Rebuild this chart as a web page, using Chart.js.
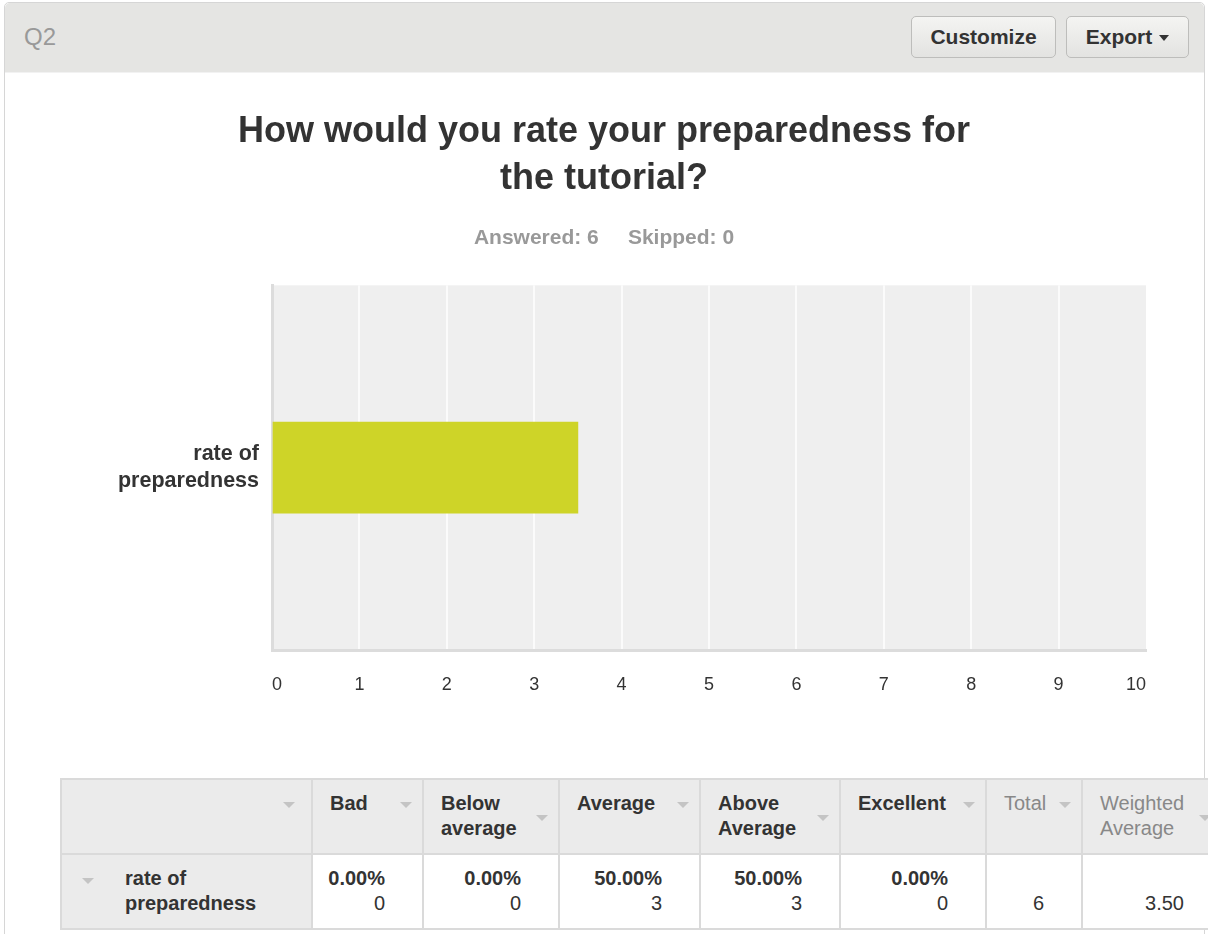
<!DOCTYPE html>
<html>
<head>
<meta charset="utf-8">
<script src="https://cdn.jsdelivr.net/npm/chart.js@4/dist/chart.umd.min.js"></script>
<style>
  html, body { margin: 0; padding: 0; background: #fff; }
  body { width: 1208px; height: 934px; overflow: hidden; position: relative; font-family: "Liberation Sans", Arial, sans-serif; color: #333; }
  .card { position: absolute; left: 4px; top: 2px; width: 1199px; height: 940px; border: 1px solid #d6d6d6; border-radius: 5px 5px 0 0; background: #fff; }
  .card-head { position: absolute; left: 0; top: 0; right: 0; height: 69px; background: #e5e5e3; border-bottom: 1px solid #f2f2f2; border-radius: 5px 5px 0 0; }
  .qnum { position: absolute; left: 19px; top: 20px; font-size: 24px; color: #999; }
  .btn { position: absolute; top: 13px; height: 42px; box-sizing: border-box; border: 1px solid #bdbdbb; border-radius: 5px;
         background: linear-gradient(#f4f4f2, #e3e3e1); font-size: 21px; font-weight: bold; color: #333; line-height: 40px; text-align: center; }
  .btn .caret { display: inline-block; width: 0; height: 0; border-left: 5px solid transparent; border-right: 5px solid transparent; border-top: 6px solid #333; vertical-align: middle; margin-left: 7px; }
  #chartWrap { position: absolute; left: 0; top: 80px; width: 1208px; height: 640px; }
  table { position: absolute; left: 60px; top: 778px; border-collapse: collapse; table-layout: fixed; width: 1161px; font-size: 20px; }
  th, td { border: 2px solid #dadada; vertical-align: top; line-height: 25px; }
  th { background: #ebebeb; text-align: left; padding: 11px 8px 0 17px; height: 62px; font-weight: bold; color: #333; position: relative; }
  th.light { font-weight: normal; color: #888; }
  th .sort { position: absolute; right: 10px; top: 22px; width: 0; height: 0; border-left: 6px solid transparent; border-right: 6px solid transparent; border-top: 6px solid #c4c4c4; }
  th .sort.low { top: 35px; }
  td { background: #fff; text-align: right; padding: 11px 37px 0 8px; height: 62px; }
  td .pct { font-weight: bold; }
  td.row { background: #ebebeb; text-align: left; font-weight: bold; padding-left: 63px; position: relative; }
  td.row .sort { position: absolute; left: 20px; top: 23px; width: 0; height: 0; border-left: 6px solid transparent; border-right: 6px solid transparent; border-top: 6px solid #c4c4c4; }
</style>
</head>
<body>
<div class="card">
  <div class="card-head">
    <div class="qnum">Q2</div>
    <div class="btn" style="left:906px;width:145px;">Customize</div>
    <div class="btn" style="left:1061px;width:123px;">Export<span class="caret"></span></div>
  </div>
</div>
<div id="chartWrap"><canvas id="chart"></canvas></div>
<table id="summary"></table>
<script>
// 質問と回答データ
const questionTitle = ['How would you rate your preparedness for', 'the tutorial?'];
const answeredCount = 6;
const skippedCount = 0;
const rowLabel = ['rate of', 'preparedness'];
const choices = ['Bad', 'Below average', 'Average', 'Above Average', 'Excellent'];
const choiceCounts = [0, 0, 3, 3, 0];
const xTicks = [0, 1, 2, 3, 4, 5, 6, 7, 8, 9, 10];

// 加重平均（1〜5点）
const total = choiceCounts.reduce((a, b) => a + b, 0);
const weightedAverage = choiceCounts.reduce((s, c, i) => s + c * (i + 1), 0) / total;

// プロット領域の背景
const plotBackground = {
  id: 'plotBackground',
  beforeDraw(chart) {
    const { ctx, chartArea } = chart;
    ctx.save();
    ctx.fillStyle = '#efefef';
    ctx.fillRect(chartArea.left, chartArea.top, chartArea.right - chartArea.left, chartArea.bottom - chartArea.top);
    ctx.restore();
  }
};

const FONT = '"Liberation Sans", Arial, sans-serif';

new Chart(document.getElementById('chart'), {
  type: 'bar',
  data: {
    labels: [rowLabel],
    datasets: [{
      data: [weightedAverage],
      backgroundColor: '#ced428',
      barThickness: 91
    }]
  },
  options: {
    indexAxis: 'y',
    responsive: true,
    maintainAspectRatio: false,
    animation: false,
    layout: { padding: { left: 62, right: 62, top: 0, bottom: 0 } },
    plugins: {
      legend: { display: false },
      tooltip: { enabled: false },
      title: {
        display: true,
        text: questionTitle,
        color: '#333',
        font: { family: FONT, size: 36, weight: 'bold', lineHeight: 1.3 },
        padding: { top: 29, bottom: 10 }
      },
      subtitle: {
        display: true,
        text: 'Answered: ' + answeredCount + '     Skipped: ' + skippedCount,
        color: '#999',
        font: { family: FONT, size: 21, weight: 'bold', lineHeight: 1.2 },
        padding: { top: 13, bottom: 34.5 }
      }
    },
    scales: {
      x: {
        min: xTicks[0],
        max: xTicks[xTicks.length - 1],
        afterBuildTicks(axis) { axis.ticks = xTicks.map(v => ({ value: v })); },
        afterFit(axis) { axis.height = 70; },
        ticks: {
          align: 'inner',
          padding: 24,
          color: '#333',
          font: { family: FONT, size: 18 }
        },
        grid: {
          drawTicks: false,
          lineWidth: 2,
          color: ctx => (ctx.index === 0 || ctx.index === xTicks.length - 1) ? 'rgba(0,0,0,0)' : '#fbfbfb'
        },
        border: { display: true, color: '#dcdcdc', width: 3 }
      },
      y: {
        afterFit(axis) { axis.width = 210; },
        ticks: {
          padding: 13,
          color: '#333',
          font: { family: FONT, size: 21.5, weight: 'bold', lineHeight: 1.22 }
        },
        grid: { display: false, drawTicks: false },
        border: { display: true, color: '#dcdcdc', width: 3 }
      }
    }
  },
  plugins: [plotBackground]
});

// 集計テーブル
const pct = c => (c / total * 100).toFixed(2) + '%';
const colWidths = [251, 111, 136, 141, 140, 146, 96, 140];
let html = '<colgroup>' + colWidths.map(w => '<col style="width:' + w + 'px">').join('') + '</colgroup>';
html += '<tr><th><span class="sort" style="right:16px"></span></th>';
choices.forEach(c => {
  const low = c.indexOf(' ') > 0;
  html += '<th>' + c.replace(' ', '<br>') + '<span class="sort' + (low ? ' low' : '') + '"></span></th>';
});
html += '<th class="light">Total<span class="sort"></span></th>';
html += '<th class="light">Weighted<br>Average<span class="sort low"></span></th></tr>';
html += '<tr><td class="row"><span class="sort"></span>' + rowLabel.join('<br>') + '</td>';
choiceCounts.forEach(c => {
  html += '<td><span class="pct">' + pct(c) + '</span><br>' + c + '</td>';
});
html += '<td><br>' + total + '</td><td><br>' + weightedAverage.toFixed(2) + '</td></tr>';
document.getElementById('summary').innerHTML = html;
</script>
</body>
</html>
